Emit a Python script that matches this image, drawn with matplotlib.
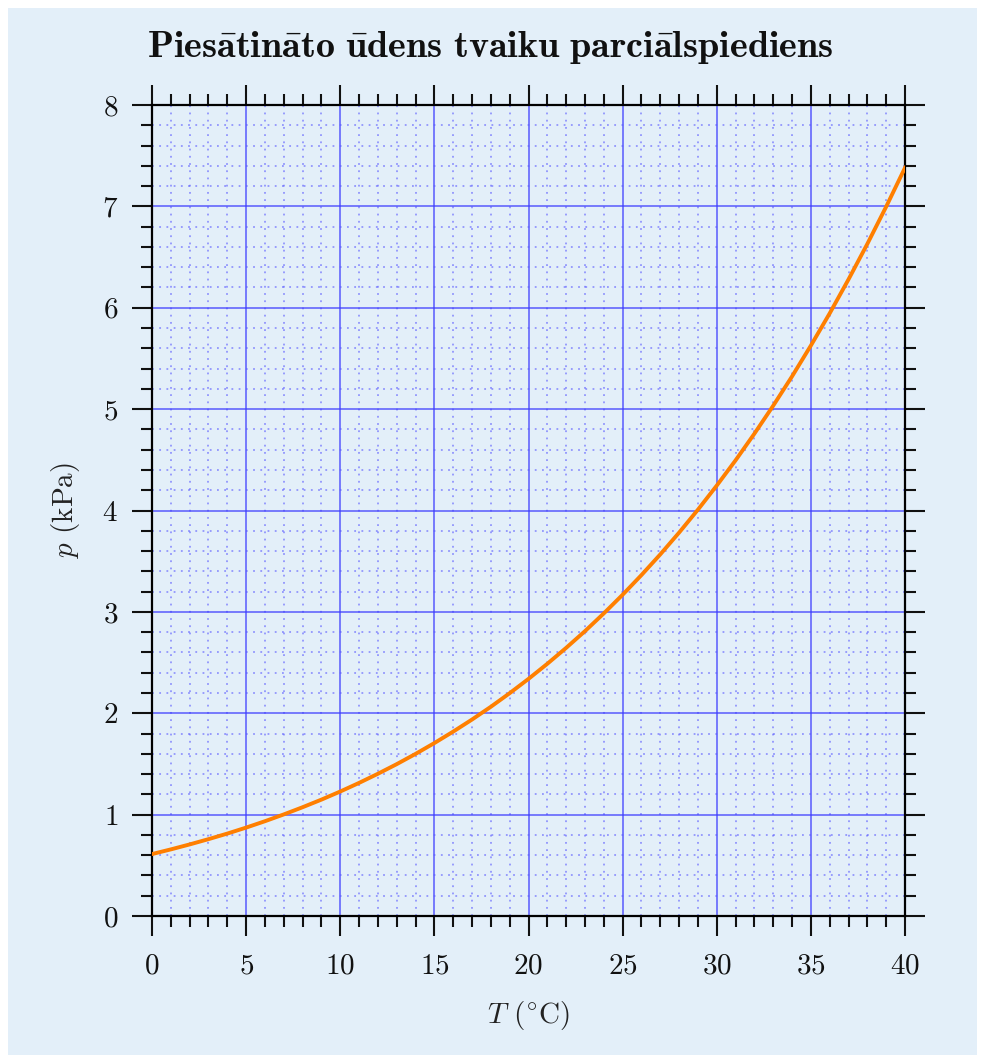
import matplotlib
matplotlib.use("Agg")
import matplotlib.pyplot as plt
from matplotlib.patches import Rectangle
from matplotlib.ticker import MultipleLocator

# saturated water vapour pressure
temp_c = [0, 1, 2, 3, 4, 5, 6, 7, 8, 9, 10, 11, 12, 13, 14, 15, 16, 17, 18, 19, 20,
          21, 22, 23, 24, 25, 26, 27, 28, 29, 30, 31, 32, 33, 34, 35, 36, 37, 38, 39, 40]
p_kpa = [0.611, 0.657, 0.706, 0.758, 0.813, 0.872, 0.935, 1.002, 1.073, 1.148, 1.228,
         1.313, 1.403, 1.498, 1.599, 1.706, 1.819, 1.938, 2.064, 2.198, 2.339,
         2.488, 2.645, 2.810, 2.985, 3.169, 3.363, 3.567, 3.782, 4.008, 4.246,
         4.495, 4.758, 5.034, 5.323, 5.627, 5.945, 6.280, 6.630, 6.997, 7.381]

plt.rcParams['font.family'] = 'serif'
plt.rcParams['font.serif'] = ['cmr10', 'DejaVu Serif']
plt.rcParams['mathtext.fontset'] = 'cm'
plt.rcParams['axes.formatter.use_mathtext'] = True

W, H = 985, 1063
BG = '#e3eff9'
fig = plt.figure(figsize=(W / 100, H / 100), dpi=100, facecolor='white')
fig.patches.append(Rectangle((8 / W, 8 / H), 1 - 16 / W, 1 - 16 / H,
                             transform=fig.transFigure, facecolor=BG,
                             edgecolor='none', zorder=-10))

ax = fig.add_axes([152 / W, 1 - 916 / H, (905 - 152) / W, (916 - 105) / H])
ax.set_facecolor(BG)

ax.plot(temp_c, p_kpa, color='#ff7f00', lw=2.8, zorder=3)

ax.set_xlim(0, 40)
ax.set_ylim(0, 8)
ax.xaxis.set_major_locator(MultipleLocator(5))
ax.xaxis.set_minor_locator(MultipleLocator(1))
ax.yaxis.set_major_locator(MultipleLocator(1))
ax.yaxis.set_minor_locator(MultipleLocator(0.2))

ax.grid(which='major', color='#3b3bff', alpha=0.7, lw=1.3)
ax.grid(which='minor', color='#5a5aff', alpha=0.6, lw=1.3, linestyle=(0, (1, 3)))

for s in ax.spines.values():
    s.set_linewidth(1.6)
ax.tick_params(which='both', direction='out', top=True, right=True,
               width=1.5, labelsize=21, colors='#111111')
ax.tick_params(which='major', length=14.5, pad=10)
ax.tick_params(which='minor', length=8)
ax.tick_params(axis='x', which='major', pad=12)

# title is centred on the whole figure, not on the axes
fig.text(490 / W, 1 - 48 / H,
         r'$\mathbf{Pies\bar{a}tin\bar{a}to\ \bar{u}dens\ tvaiku\ parci\bar{a}lspiediens}$',
         fontsize=27.5, ha='center', va='center', color='#111111')
ax.set_xlabel(r'$T$ ($^{\circ}$C)', fontsize=21, labelpad=14, color='#222222')
ax.set_ylabel(r'$p$ (kPa)', fontsize=21, labelpad=14, color='#222222')

fig.savefig('out.png', dpi=100, facecolor='white')
